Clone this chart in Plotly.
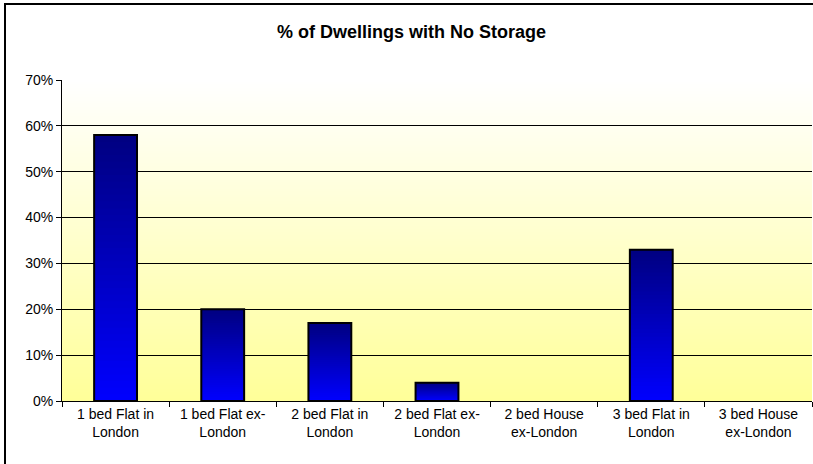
import base64, struct, zlib
import plotly.graph_objects as go

# ---- data ----
categories = [
    "1 bed Flat in<br>London",
    "1 bed Flat ex-<br>London",
    "2 bed Flat in<br>London",
    "2 bed Flat ex-<br>London",
    "2 bed House<br>ex-London",
    "3 bed Flat in<br>London",
    "3 bed House<br>ex-London",
]
values = [0.58, 0.20, 0.17, 0.04, 0.0, 0.33, 0.0]
title_text = "% of Dwellings with No Storage"

FONT = "Liberation Sans, Arial, sans-serif"


def gradient_png(top, bottom, n=256):
    rows = b""
    for i in range(n):
        t = i / (n - 1)
        c = [round(top[j] + (bottom[j] - top[j]) * t) for j in range(3)]
        rows += b"\x00" + bytes(c)
    def chunk(tag, data):
        return struct.pack(">I", len(data)) + tag + data + struct.pack(">I", zlib.crc32(tag + data) & 0xffffffff)
    png = b"\x89PNG\r\n\x1a\n"
    png += chunk(b"IHDR", struct.pack(">IIBBBBB", 1, n, 8, 2, 0, 0, 0))
    png += chunk(b"IDAT", zlib.compress(rows))
    png += chunk(b"IEND", b"")
    return "data:image/png;base64," + base64.b64encode(png).decode()


fig = go.Figure()

# gradient bars: overlapping bars from the base, darkest (full height) first
K = 40
for k in range(K):
    f = (K - k) / K
    t = f - 0.5 / K  # position in bar (0 bottom, 1 top)
    b = round(255 - 127 * t)
    fig.add_trace(go.Bar(
        x=categories,
        y=[v * f for v in values],
        marker=dict(color=f"rgb(0,0,{b})", line=dict(width=0)),
        hoverinfo="skip",
        showlegend=False,
    ))

# outline (no outline for empty bars)
fig.add_trace(go.Bar(
    x=categories,
    y=values,
    marker=dict(color="rgba(0,0,0,0)",
                line=dict(color="black", width=[2 if v > 0 else 0 for v in values])),
    showlegend=False,
))

fx = (5 - 62) / 750
fy = (401 - 4) / 321

fig.update_layout(
    width=813,
    height=464,
    margin=dict(l=62, r=1, t=80, b=63),
    barmode="overlay",
    bargap=0.6,
    paper_bgcolor="white",
    plot_bgcolor="white",
    font=dict(family=FONT, size=14, color="black"),
    title=dict(
        text=f"<b>{title_text}</b>",
        x=411.5 / 813, xref="container", xanchor="center",
        y=1 - 32 / 464, yref="container", yanchor="middle",
        font=dict(family=FONT, size=18, color="black"),
    ),
    images=[dict(
        source=gradient_png((255, 255, 255), (255, 255, 153)),
        xref="paper", yref="paper", x=0, y=1, sizex=1, sizey=1,
        xanchor="left", yanchor="top", sizing="stretch", layer="below",
    )],
    shapes=[
        # chart frame: only left and top edges are inside the picture
        dict(type="path", xref="paper", yref="paper",
             path=f"M {fx},-0.4 L {fx},{fy} L 1.2,{fy}",
             line=dict(color="black", width=2), fillcolor="rgba(0,0,0,0)"),
    ],
    showlegend=False,
)

fig.update_yaxes(
    range=[0, 0.7], dtick=0.1, tickformat=".0%",
    showline=True, linecolor="black", linewidth=1,
    ticks="outside", ticklen=5, tickcolor="black",
    showgrid=True, gridcolor="black", gridwidth=1,
    zeroline=False, tickfont=dict(size=14),
)
fig.update_xaxes(
    showline=True, linecolor="black", linewidth=1,
    ticks="outside", ticklen=5, tickcolor="black",
    tickson="boundaries", showgrid=False,
    tickfont=dict(size=14), tickangle=0,
)

fig.write_html(
    "out.html",
    config={"displayModeBar": False},
    post_script=(
        "document.documentElement.style.margin='0';"
        "document.documentElement.style.overflow='hidden';"
        "document.body.style.margin='0';document.body.style.overflow='hidden';"
    ),
)
